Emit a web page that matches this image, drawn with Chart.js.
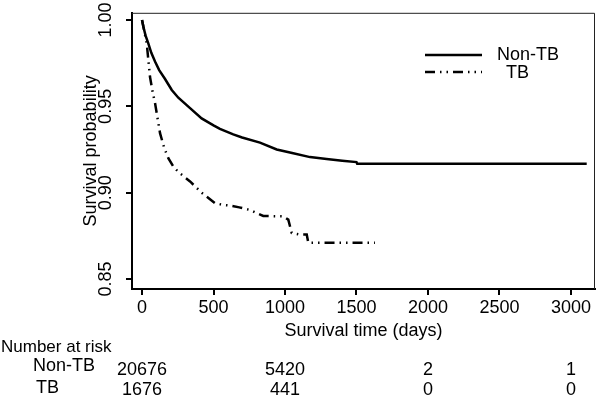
<!DOCTYPE html>
<html>
<head>
<meta charset="utf-8">
<script src="https://cdn.jsdelivr.net/npm/chart.js"></script>
<style>
    html, body { margin: 0; padding: 0; background: #ffffff; }
    #wrap { width: 600px; height: 401px; }
</style>
</head>
<body>
<div id="wrap"><canvas id="km"></canvas></div>
<script>
// -----------------------------
// DATA
// -----------------------------
const groups = ["Non-TB", "TB"];

const nonTbDays = [0, 10, 25, 44, 65, 91, 120, 160, 208, 254, 336, 417, 500, 545, 638, 700, 825, 942, 1050, 1175, 1291, 1400, 1500, 1505, 3110];
const nonTbSurv = [1.0, 0.996, 0.991, 0.9865, 0.981, 0.976, 0.971, 0.966, 0.9595, 0.955, 0.949, 0.943, 0.939, 0.937, 0.9338, 0.932, 0.929, 0.925, 0.923, 0.9206, 0.9195, 0.9185, 0.9177, 0.9168, 0.9168];

const tbDays = [0, 15, 33, 56, 75, 91, 126, 155, 184, 220, 254, 336, 417, 510, 560, 615, 680, 755, 848, 988, 1023, 1047, 1105, 1152, 1163, 1629];
const tbSurv = [1.0, 0.994, 0.9865, 0.967, 0.958, 0.952, 0.9345, 0.926, 0.92, 0.915, 0.912, 0.9065, 0.90, 0.894, 0.893, 0.8925, 0.8915, 0.890, 0.8865, 0.8863, 0.8844, 0.8767, 0.8757, 0.8757, 0.871, 0.871];

const xTicks = [0, 500, 1000, 1500, 2000, 2500, 3000];
const yTicks = [0.85, 0.90, 0.95, 1.00];

const riskTimes = [0, 1000, 2000, 3000];
const riskNonTb = [20676, 5420, 2, 1];
const riskTb = [1676, 441, 0, 0];

const FONT = "'Liberation Sans', Arial, Helvetica, sans-serif";
const TB_DASH = [10, 5, 1.5, 5, 1.5, 5];

function toPoints(days, surv) {
    return days.map((d, i) => ({ x: d, y: surv[i] }));
}

// -----------------------------
// FRAME, LEGEND, RISK TABLE
// -----------------------------
const extras = {
    id: "extras",
    afterDraw(chart) {
        const { ctx, chartArea: a, scales: { x } } = chart;
        ctx.save();

        // top and right sides of the box
        ctx.strokeStyle = "#222";
        ctx.lineWidth = 1;
        ctx.beginPath();
        ctx.moveTo(a.left, a.top + 0.5);
        ctx.lineTo(a.right - 0.5, a.top + 0.5);
        ctx.lineTo(a.right - 0.5, a.bottom);
        ctx.stroke();

        // legend
        ctx.strokeStyle = "#000";
        ctx.lineWidth = 2.5;
        ctx.beginPath();
        ctx.moveTo(425, 55);
        ctx.lineTo(482, 55);
        ctx.stroke();
        ctx.setLineDash(TB_DASH);
        ctx.beginPath();
        ctx.moveTo(425, 72);
        ctx.lineTo(482, 72);
        ctx.stroke();
        ctx.setLineDash([]);

        ctx.font = "18px " + FONT;
        ctx.fillStyle = "#000";
        ctx.textBaseline = "middle";
        ctx.textAlign = "left";
        ctx.fillText(groups[0], 497, 55);
        ctx.fillText(groups[1], 506, 73);

        // number at risk
        ctx.font = "17px " + FONT;
        ctx.fillText("Number at risk", 1, 347);
        ctx.font = "18px " + FONT;
        ctx.fillText(groups[0], 33, 366);
        ctx.fillText(groups[1], 36, 388);
        ctx.textAlign = "center";
        riskTimes.forEach((t, i) => {
            const px = x.getPixelForValue(t);
            ctx.fillText(String(riskNonTb[i]), px, 370);
            ctx.fillText(String(riskTb[i]), px, 390);
        });

        ctx.restore();
    }
};

// -----------------------------
// CHART
// -----------------------------
new Chart(document.getElementById("km"), {
    type: "line",
    data: {
        datasets: [
            {
                label: groups[0],
                data: toPoints(nonTbDays, nonTbSurv),
                borderColor: "#000",
                borderWidth: 2.5,
                pointRadius: 0,
                tension: 0
            },
            {
                label: groups[1],
                data: toPoints(tbDays, tbSurv),
                borderColor: "#000",
                borderWidth: 2.5,
                borderDash: TB_DASH,
                pointRadius: 0,
                tension: 0
            }
        ]
    },
    options: {
        responsive: true,
        maintainAspectRatio: false,
        animation: false,
        layout: { padding: { left: 80, top: 10, right: 5, bottom: 56 } },
        plugins: {
            legend: { display: false },
            tooltip: { enabled: false }
        },
        scales: {
            x: {
                type: "linear",
                min: -70,
                max: 3168,
                afterBuildTicks(s) { s.ticks = xTicks.map(v => ({ value: v })); },
                afterFit(s) { s.height = 56; },
                ticks: {
                    color: "#000",
                    padding: 2,
                    maxRotation: 0,
                    autoSkip: false,
                    font: { family: FONT, size: 18 },
                    callback: v => String(v)
                },
                grid: { drawOnChartArea: false, tickLength: 6, color: "#000", lineWidth: 2 },
                border: { color: "#000", width: 2 },
                title: {
                    display: true,
                    text: "Survival time (days)",
                    color: "#000",
                    padding: { top: 0, bottom: 3 },
                    font: { family: FONT, size: 18 }
                }
            },
            y: {
                min: 0.8442,
                max: 1.0042,
                afterBuildTicks(s) { s.ticks = yTicks.map(v => ({ value: v })); },
                afterFit(s) { s.width = 52; },
                ticks: {
                    color: "#000",
                    padding: 2,
                    minRotation: 90,
                    maxRotation: 90,
                    crossAlign: "center",
                    autoSkip: false,
                    font: { family: FONT, size: 18 },
                    callback: v => v.toFixed(2)
                },
                grid: { drawOnChartArea: false, tickLength: 6, color: "#000", lineWidth: 2 },
                border: { color: "#000", width: 2 },
                title: {
                    display: true,
                    text: "Survival probability",
                    color: "#000",
                    padding: { top: 0, bottom: 0 },
                    font: { family: FONT, size: 18 }
                }
            }
        }
    },
    plugins: [extras]
});
</script>
</body>
</html>
